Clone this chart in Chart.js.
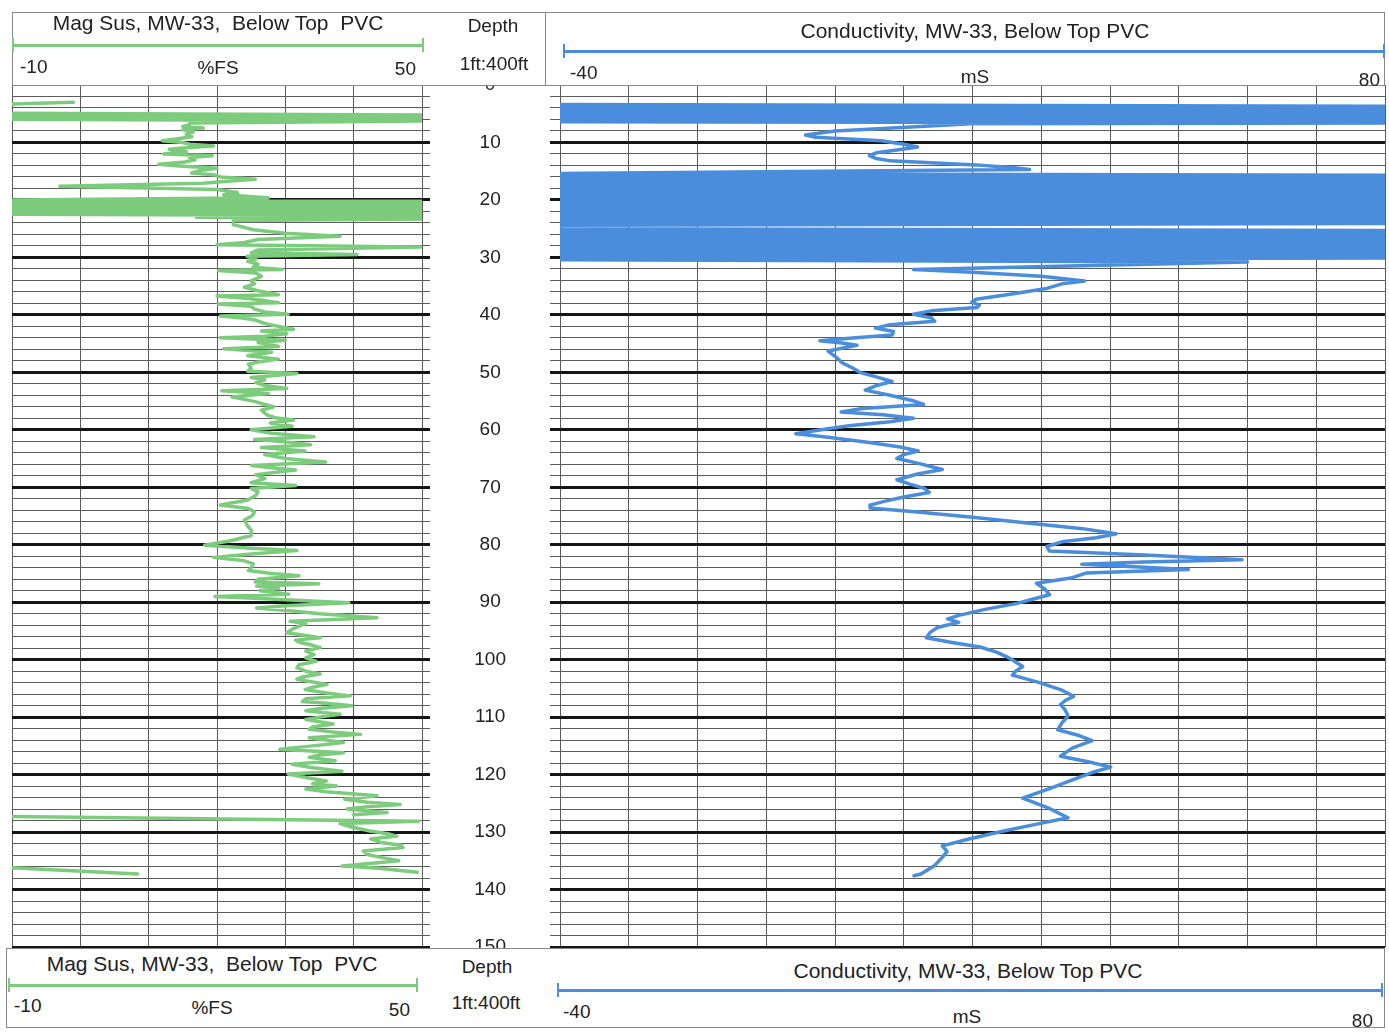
<!DOCTYPE html>
<html lang="en">
<head>
<meta charset="UTF-8">
<title>MW-33 Mag Sus / Conductivity Log</title>
<style>
    body { margin: 0; background: #fff; font-family: 'Liberation Sans', Arial, sans-serif; color: #222; }
    .page { position: relative; width: 1389px; height: 1036px; overflow: hidden; }
    canvas { position: absolute; }
    .box { position: absolute; background: #fff; border: 1px solid #888; box-sizing: border-box; z-index: 2; }
    .sep { position: absolute; width: 1px; background: #888; z-index: 3; }
    .t { position: absolute; white-space: pre; font-size: 19px; line-height: 1; z-index: 3; transform: translate(-50%, -50%); }
    .t.title { font-size: 21px; }
    .l { transform: translate(0, -50%); }
    .r { transform: translate(-100%, -50%); }
    .bar { position: absolute; height: 3px; z-index: 3; }
    .tick { position: absolute; width: 2px; height: 14px; z-index: 3; }
    .g { background: #7dcc7d; }
    .b { background: #4a8ddc; }
</style>
</head>
<body>
<div class="page">
    <canvas id="magChart" width="432" height="902" style="left:0;top:65px"></canvas>
    <canvas id="condChart" width="959" height="982" style="left:430px;top:25px"></canvas>

    <!-- header -->
    <div class="box" style="left:12px;top:12px;width:1373px;height:74px"></div>
    <div class="sep" style="left:545px;top:12px;height:73px"></div>
    <div class="t title" style="left:218px;top:22px">Mag Sus, MW-33,  Below Top  PVC</div>
    <div class="bar g" style="left:12px;top:44px;width:412px"></div>
    <div class="tick g" style="left:12px;top:38px"></div>
    <div class="tick g" style="left:422px;top:38px"></div>
    <div class="t l" style="left:20px;top:66px">-10</div>
    <div class="t" style="left:218px;top:67px">%FS</div>
    <div class="t r" style="left:416px;top:68px">50</div>
    <div class="t" style="left:493px;top:25px">Depth</div>
    <div class="t" style="left:494px;top:63px">1ft:400ft</div>
    <div class="t title" style="left:975px;top:30px">Conductivity, MW-33, Below Top PVC</div>
    <div class="bar b" style="left:563px;top:50px;width:822px"></div>
    <div class="tick b" style="left:563px;top:44px"></div>
    <div class="tick b" style="left:1383px;top:44px"></div>
    <div class="t l" style="left:570px;top:72px">-40</div>
    <div class="t" style="left:975px;top:76px">mS</div>
    <div class="t r" style="left:1380px;top:79px">80</div>

    <!-- footer -->
    <div class="box" style="left:6px;top:948px;width:1379px;height:80px"></div>
    <div class="t title" style="left:212px;top:963px">Mag Sus, MW-33,  Below Top  PVC</div>
    <div class="bar g" style="left:8px;top:984px;width:410px"></div>
    <div class="tick g" style="left:8px;top:978px"></div>
    <div class="tick g" style="left:416px;top:978px"></div>
    <div class="t l" style="left:14px;top:1005px">-10</div>
    <div class="t" style="left:212px;top:1007px">%FS</div>
    <div class="t r" style="left:410px;top:1009px">50</div>
    <div class="t" style="left:487px;top:966px">Depth</div>
    <div class="t" style="left:486px;top:1002px">1ft:400ft</div>
    <div class="t title" style="left:968px;top:970px">Conductivity, MW-33, Below Top PVC</div>
    <div class="bar b" style="left:557px;top:989px;width:826px"></div>
    <div class="tick b" style="left:557px;top:983px"></div>
    <div class="tick b" style="left:1381px;top:983px"></div>
    <div class="t l" style="left:563px;top:1011px">-40</div>
    <div class="t" style="left:967px;top:1016px">mS</div>
    <div class="t r" style="left:1373px;top:1020px">80</div>
</div>

<script src="https://cdn.jsdelivr.net/npm/chart.js"></script>
<script>
    // depth (ft) and magnetic susceptibility (%FS), null = break in the trace
    const magDepth = [
        3.0, 3.3, 3.5,
        4.9, 5.2, 5.45, 5.7, 5.95, 6.25, 6.6,
        6.9, 7.2, 7.5, 7.8, 8.2, 8.6, 9.0, 9.4, 9.7, 10.0,
        10.3, 10.6, 10.9, 11.2, 11.6, 12.0, 12.3, 12.6, 13.0, 13.4,
        13.8, 14.1, 14.5, 14.9, 15.3, 15.6, 16.0, 16.4, 16.8, 17.1,
        17.6, 18.2, 18.7, 19.1, 19.6,
        20.0, 20.25, 20.5, 20.75, 21.0, 21.25, 21.5, 21.75, 22.0, 22.25, 22.5, 22.75, 23.0, 23.3, 23.6,
        24.3, 25.2, 25.8, 26.3, 26.9, 27.4, 27.8, 28.2, 28.7, 29.2,
        29.5, 29.8, 30.3, 30.7, 31.2, 31.7, 32.1, 32.3, 32.7, 33.3,
        34.1, 34.6, 35.2, 35.8, 36.5, 36.7, 37.2, 37.9, 38.1, 38.5,
        39.0, 39.5, 39.9, 40.2, 40.6, 40.9, 41.5, 42.0, 42.5, 42.8,
        43.3, 43.7, 44.0, 44.4, 44.8, 45.1, 45.5, 45.9, 46.5, 47.1,
        47.7, 48.2, 48.6, 49.3, 49.8, 50.2, 50.9, 51.3, 51.8, 52.3,
        52.8, 53.2, 53.7, 54.3, 54.7, 55.1, 55.6, 56.0, 56.6, 57.4,
        57.9, 58.3, 58.8, 59.4, 60.0, 60.6, 61.2, 61.7, 62.1, 62.6,
        63.1, 63.7, 64.3, 65.0, 65.6, 66.2, 66.6, 67.0, 67.8, 68.5,
        69.2, 69.7, 70.2, 70.8, 71.4, 72.2, 73.1, 73.7, 74.3, 74.9,
        75.7, 76.6, 77.5, 78.4, 79.3, 80.1, 80.6, 81.0, 81.6, 82.2,
        82.8, 83.3, 84.0, 84.5, 85.0, 85.4, 86.0, 86.5, 86.8, 87.2,
        87.6, 88.0, 88.6, 89.0, 89.4, 90.1, 90.6, 91.0, 91.5, 92.0,
        92.7, 93.3, 93.7, 94.1, 94.7, 95.3, 95.8, 96.2, 96.6, 97.0,
        97.5, 97.9, 98.5, 99.1, 99.7, 100.3, 100.9, 101.4, 102.0, 102.5,
        103.0, 103.4, 103.9, 104.3, 104.8, 105.2, 105.8, 106.3, 106.8, 107.3,
        107.6, 108.0, 108.5, 108.9, 109.5, 110.0, 110.4, 111.2, 111.7, 112.1,
        112.6, 113.0, 113.6, 114.0, 114.4, 115.0, 115.6, 116.2, 116.6, 117.0,
        117.6, 118.2, 118.8, 119.4, 119.9, 120.5, 121.1, 121.6, 122.0, 122.5,
        123.0, 123.7, 124.3, 124.8, 125.2, 125.6, 126.0, 126.6, 127.0, 127.2,
        127.3, 128.1, 128.5, 129.2, 129.8, 130.3, 130.7, 131.2, 131.8, 132.3,
        132.7, 133.3, 133.9, 134.4, 135.0, 135.5, 135.9, 136.3, 137.0, 137.1,
        136.2, 137.3
    ];
    const magSus = [
        -1, -10, null,
        -10, 50, -10, 50, -10, 50, 16,
        16, 15, 18, 15, 16.5, 15.5, 16.3, 14, 12, 15,
        16, 19.5, 15.5, 13, 15.5, 12.2, 19.3, 16, 16.8, 15.3,
        11.5, 14.5, 20, 17.5, 16.3, 19.5, 20.5, 25.6, 21, 18,
        -3, 20, 23, 21, 27.5,
        -10, 50, -10, 50, -10, 50, -10, 50, -10, 50, -10, 50, 17, 50, 22.4,
        22.4, 25.3, 30, 38, 26, 24, 20, 50, 26, 25,
        40.5, 24.4, 25.7, 24.5, 26, 25.3, 29.5, 20.2, 25.7, 26.5,
        25, 25.5, 24, 26, 29, 20, 25, 29, 20.2, 25,
        25.5, 27, 30.4, 20.5, 24, 25.6, 27, 29, 31.2, 26.5,
        30.2, 27, 20.5, 30, 26, 27.5, 29, 21, 28, 24.5,
        29, 26, 24.6, 25, 24.5, 31.7, 25, 27, 25.7, 27,
        30.2, 20.7, 27.5, 22.2, 24, 25.6, 27, 28.3, 26.5, 27.3,
        28.5, 31.2, 27.8, 31, 25, 28, 34.2, 25.5, 30, 33.7,
        26.5, 32.9, 27, 30, 35.9, 25.1, 28, 31.5, 25.7, 27,
        25, 31.5, 25, 26, 25.7, 24.5, 20.5, 24.6, 25.5, 25.2,
        24, 24.4, 25, 25, 22, 18.2, 25, 31.7, 25, 19.5,
        24, 25.3, 25, 24.6, 28, 32, 26, 25.6, 34.9, 25.8,
        29, 26.3, 30.5, 19.7, 27, 39.3, 30, 25.8, 30.7, 35,
        43.4, 30.7, 33, 32.2, 31, 30.2, 33, 35.1, 31.5, 32.2,
        34, 35.1, 33, 34.2, 33, 34.5, 32, 31.7, 33, 35.1,
        32.5, 31.7, 34, 36.1, 34, 32.9, 36, 39.5, 33, 32.5,
        36, 39.7, 35, 33, 38, 35, 33, 37, 34, 33.5,
        37, 41, 33.5, 36, 38.5, 34, 29.2, 38.5, 35, 33.5,
        37.3, 31, 34, 38.3, 30.4, 33, 36, 34, 37.5, 33,
        36, 43.4, 38.7, 42, 46.8, 42, 39, 44.9, 40, null,
        -10, 49.5, 38, 40, 42.4, 45, 46.3, 42.5, 44, 47,
        47.2, 41.4, 42, 44, 46.6, 42, 38.3, 43.7, 49.3, null,
        -10, 8.4
    ];

    // depth (ft) and conductivity (mS); the two saturated zones swing full scale
    const condDepth = [
        3.4, 3.7, 4.0, 4.3, 4.6, 4.9, 5.2, 5.5, 5.8, 6.1, 6.4, 6.6,
        6.75, 7.4, 8.0, 8.7, 9.1, 9.7, 10.3, 10.8, 11.3, 11.8,
        12.3, 12.8, 13.2, 13.9, 14.4, 14.7, 15.4,
        15.7, 16.0, 16.3, 16.6, 16.9, 17.2, 17.5, 17.8, 18.1, 18.4,
        18.7, 19.0, 19.3, 19.6, 19.9, 20.2, 20.5, 20.8, 21.1, 21.4,
        21.7, 22.0, 22.3, 22.6, 22.9, 23.2, 23.5, 23.8, 24.1, 24.4,
        25.0, 25.3, 25.6, 25.9, 26.2, 26.5, 26.8, 27.1, 27.4, 27.7,
        28.0, 28.3, 28.6, 28.9, 29.2, 29.5, 29.8, 30.1, 30.4, 30.8,
        32.1, 32.6, 33.3, 34.1, 34.6, 35.4, 36.5, 37.3, 37.8, 38.3,
        38.7, 39.3, 39.9, 40.5, 41.1, 41.7, 42.3, 42.9, 43.5, 44.0,
        44.5, 44.9, 45.3, 45.8, 46.3, 47.3, 48.3, 49.2, 50.0, 50.8,
        51.6, 52.3, 53.1, 54.0, 55.0, 55.6, 56.3, 56.9, 57.4, 58.0,
        58.6, 59.3, 60.0, 60.7, 61.3, 62.2, 63.0, 63.7, 64.3, 65.0,
        65.8, 66.9, 67.7, 68.7, 69.5, 70.2, 70.9, 71.7, 72.5, 73.1,
        73.6, 74.3, 75.2, 76.2, 77.2, 78.1, 78.8, 79.5, 80.3, 81.1,
        81.8, 82.6, 83.0, 83.4, 83.9, 84.3, 84.9, 85.8, 86.7, 87.7,
        88.7, 89.4, 90.2, 91.2, 92.3, 92.9, 93.5, 94.4, 95.3, 96.2,
        97.0, 97.8, 98.7, 99.5, 100.4, 101.2, 102.0, 102.7, 103.9, 105.2,
        105.8, 106.4, 107.1, 107.8, 108.8, 109.8, 111.0, 112.2, 113.2, 114.1,
        115.4, 116.8, 117.8, 118.7, 119.6, 120.5, 122.3, 124.1, 125.8, 127.5,
        128.7, 129.9, 131.2, 132.4, 133.4, 134.4, 135.8, 137.3, 137.6
    ];
    const condValue = [
        -40, 80, -40, 80, -40, 80, -40, 80, -40, 80, -40, 80,
        19.8, 9.7, 0, -4.3, -2.8, 6.7, 10, 12, 9, 6,
        5, 6, 8.1, 20.5, 26, 28.3, -40,
        80, -40, 80, -40, 80, -40, 80, -40, 80, -40,
        80, -40, 80, -40, 80, -40, 80, -40, 80, -40,
        80, -40, 80, -40, 80, -40, 80, -40, 80, -40,
        -40, 80, -40, 80, -40, 80, -40, 80, -40, 80,
        -40, 80, -40, 80, -40, 80, -40, 80, -40, 60,
        11.4, 20, 30, 36.3, 33, 30.8, 25, 20.5, 19.9, 21,
        20.7, 14, 11.4, 14, 14.5, 8, 5.9, 8.5, 8.3, 3,
        -2.2, 1, 3.2, 1, -1, 0.1, 1, 2.5, 3.6, 6,
        8.3, 6, 4.4, 8, 11.5, 12.9, 4, 0.9, 7, 11.4,
        8, 2, -2, -5.7, -1, 5, 9.5, 12.1, 10, 9,
        12, 15.6, 12, 9, 11, 13, 13.7, 10, 7, 5.1,
        5.1, 12, 20, 28, 36, 40.9, 38, 33, 30.8, 31.2,
        45, 59.2, 45, 35.9, 45, 51.4, 36.6, 34.3, 29.3, 30.5,
        31.2, 29, 26.5, 22, 18, 16.4, 18, 14.9, 13.8, 13.3,
        17, 21.1, 23.5, 25, 26.3, 27.3, 26.3, 25.8, 29.5, 32.8,
        33.8, 34.7, 33.5, 32.8, 33.5, 33.9, 33, 32.4, 35.5, 37.4,
        34.5, 32.8, 37, 40.1, 37.5, 35.5, 31.5, 27.3, 31, 33.9,
        29, 24.2, 19.5, 15.6, 16.3, 15.6, 14.5, 12.5, 11.5
    ];

    const GREEN = '#7dcc7d';
    const BLUE = '#4a8ddc';

    Chart.defaults.font.family = "'Liberation Sans', Arial, sans-serif";

    function toPoints(depths, values) {
        return depths.map((d, i) => ({ x: values[i], y: d }));
    }

    // every 10 ft gets a heavy line, every 2 ft a thin one
    function isMajor(c) {
        const v = c.tick ? c.tick.value : 0;
        return v % 10 === 0 && v > 0;
    }
    const depthGrid = {
        color: c => isMajor(c) ? '#151515' : '#5c5c5c',
        lineWidth: c => isMajor(c) ? 3 : 1
    };

    function trace(points, colour) {
        return {
            data: points,
            showLine: true,
            borderColor: colour,
            borderWidth: 3.5,
            borderJoinStyle: 'round',
            borderCapStyle: 'round',
            pointRadius: 0,
            spanGaps: false,
            clip: 0
        };
    }

    const common = {
        responsive: false,
        animation: false,
        plugins: { legend: { display: false }, tooltip: { enabled: false } }
    };

    new Chart(document.getElementById('magChart'), {
        type: 'scatter',
        data: { datasets: [trace(toPoints(magDepth, magSus), GREEN)] },
        options: {
            ...common,
            layout: { padding: { left: 12, right: 0, top: 20, bottom: 20 }, autoPadding: false },
            scales: {
                x: {
                    min: -10, max: 50,
                    ticks: { display: false, stepSize: 10, autoSkip: false },
                    grid: { color: '#5c5c5c', lineWidth: 1, drawTicks: false },
                    border: { display: false }
                },
                y: {
                    position: 'right', reverse: true, min: 0, max: 150,
                    ticks: { display: false, stepSize: 2, autoSkip: false },
                    grid: { ...depthGrid, tickLength: 8 },
                    border: { display: false },
                    afterFit: s => { s.width = 10; }
                }
            }
        }
    });

    // the depth labels live on this chart's y axis, centred in the gap
    new Chart(document.getElementById('condChart'), {
        type: 'scatter',
        data: { datasets: [trace(toPoints(condDepth, condValue), BLUE)] },
        options: {
            ...common,
            layout: { padding: { left: 0, right: 4, top: 60, bottom: 60 }, autoPadding: false },
            scales: {
                x: {
                    min: -40, max: 80,
                    ticks: { display: false, stepSize: 10, autoSkip: false },
                    grid: { color: '#5c5c5c', lineWidth: 1, drawTicks: false },
                    border: { display: false }
                },
                y: {
                    position: 'left', reverse: true, min: 0, max: 150,
                    ticks: {
                        stepSize: 2, autoSkip: false, crossAlign: 'center', padding: 44,
                        color: '#222', font: { size: 19 },
                        callback: v => v % 10 === 0 ? String(v) : ''
                    },
                    grid: { ...depthGrid, tickLength: 10 },
                    border: { display: false },
                    afterFit: s => { s.width = 130; }
                }
            }
        }
    });
</script>
</body>
</html>
